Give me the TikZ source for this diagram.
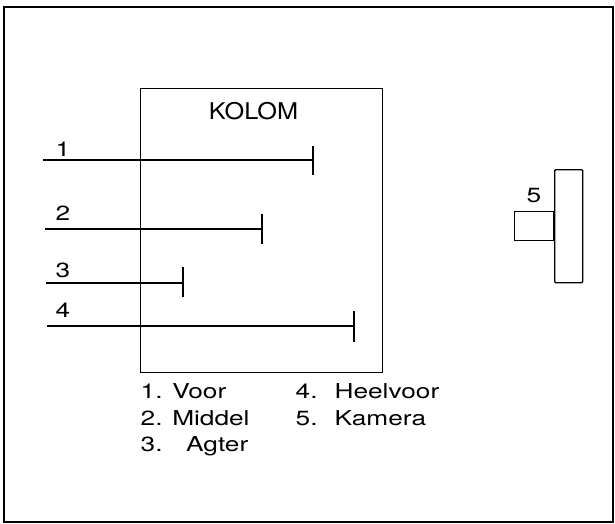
\documentclass[tikz,border=0pt]{standalone}
\usepackage{fontspec}
\setmainfont{TeX Gyre Heros}
\newcommand\widetxt[1]{\scalebox{1.28}[1]{#1}}
\begin{document}
\begin{tikzpicture}[x=1pt,y=-1pt,line width=1.4pt,
  txt/.style={inner sep=0pt,font=\fontsize{20.5}{24}\selectfont},
  lbl/.style={txt,anchor=base west}]
\useasboundingbox (0,0) rectangle (615,524);
% outer frame
\draw (4,7) rectangle (613,522);
% column box
\node[draw,minimum width=242pt,minimum height=284pt,inner sep=0pt,anchor=north west,line width=1.4pt] (kolom) at (140,88) {};
\node[inner sep=0pt,font=\fontsize{23}{26}\selectfont,anchor=base] (kt) at (253.5,119) {\scalebox{1.1}[1]{KOLOM}};
% lines
\coordinate (s1) at (43,160); \coordinate (e1) at (313,160);
\coordinate (s2) at (45,229); \coordinate (e2) at (262,229);
\coordinate (s3) at (46,283); \coordinate (e3) at (183,283);
\coordinate (s4) at (47,326); \coordinate (e4) at (354,326);
\draw (s1) -- (e1); \draw ([yshift=-15pt]e1) -- ([yshift=14pt]e1);
\draw (s2) -- (e2); \draw ([yshift=-15pt]e2) -- ([yshift=15pt]e2);
\draw (s3) -- (e3); \draw ([yshift=-14pt]e3) -- ([yshift=16pt]e3);
\draw (s4) -- (e4); \draw ([yshift=-16pt]e4) -- ([yshift=15pt]e4);
\node[lbl] (l1) at (55,156) {\widetxt{1}};
\node[lbl] (l2) at (55,220) {\widetxt{2}};
\node[lbl] (l3) at (55,277) {\widetxt{3}};
\node[lbl] (l4) at (55,317) {\widetxt{4}};
% camera
\node[draw,minimum width=28pt,minimum height=113pt,inner sep=0pt,anchor=north west,rounded corners=1pt,line width=1.4pt] (body) at (554,169) {};
\node[draw,minimum width=39pt,minimum height=29pt,inner sep=0pt,anchor=north east,line width=1.4pt] (lens) at (554,211) {};
\node[lbl] (l5) at (526,202) {\widetxt{5}};
% legend
\node[lbl] (a1) at (140,398) {\widetxt{1. Voor}};
\node[lbl] (a2) at (140,425) {\widetxt{2. Middel}};
\node[lbl] (a3) at (140,451) {\widetxt{3.\hspace{0.9em}Agter}};
\node[lbl] (a4) at (295,398) {\widetxt{4.\hspace{0.65em}Heelvoor}};
\node[lbl] (a5) at (295,425) {\widetxt{5.\hspace{0.65em}Kamera}};
\end{tikzpicture}
\end{document}
